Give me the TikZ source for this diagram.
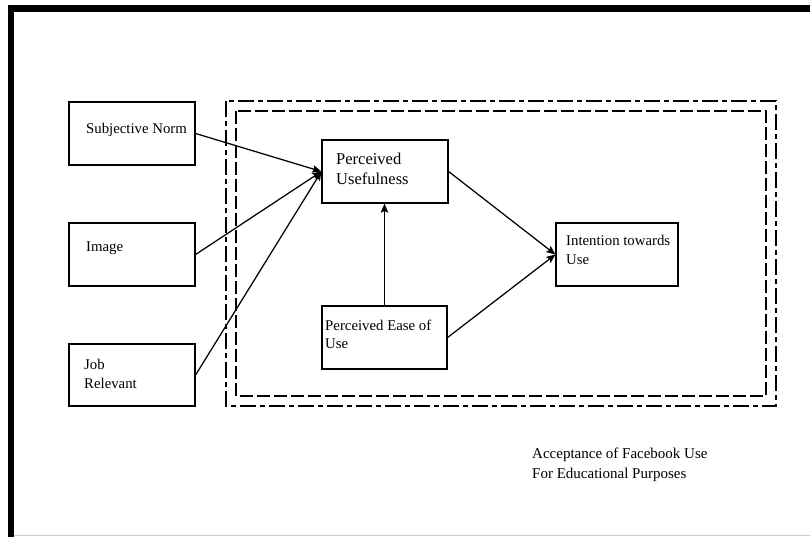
\documentclass[tikz,border=0pt]{standalone}
\usepackage{fontspec}
\setmainfont{Liberation Serif}
\usetikzlibrary{arrows.meta}

\tikzset{
  boxnode/.style={draw=black, line width=1.2pt, rectangle, inner sep=0pt},
  txt/.style={anchor=west, align=left, inner sep=0pt, font=\fontsize{14.8}{18.5}\selectfont},
  bigtxt/.style={anchor=west, align=left, inner sep=0pt, font=\fontsize{16.5}{20}\selectfont},
  link/.style={line width=1.25pt, -{Stealth[length=9pt,width=7.5pt,inset=1.5pt]}},
  outerdash/.style={line width=1.4pt, dash pattern=on 16pt off 4pt on 5pt off 4pt},
  innerdash/.style={line width=1.4pt, dash pattern=on 13pt off 4pt},
}

\begin{document}
\begin{tikzpicture}[x=1pt, y=-1pt]
  \useasboundingbox (0,0) rectangle (810,537);
  \fill[white] (0,0) rectangle (810,537);

  % page frame
  \draw[line width=1pt, color=black!20] (14,535) -- (810,535);
  \fill[black] (8,5) rectangle (810,12);
  \fill[black] (8,5) rectangle (14,537);

  % model boundary
  \draw[outerdash] (226,101) rectangle (776,406);
  \draw[innerdash] (236,111) rectangle (766,396);

  % boxes
  \node[boxnode, minimum width=126pt, minimum height=63pt] (sn)   at (132,133.5) {};
  \node[boxnode, minimum width=126pt, minimum height=63pt] (img)  at (132,254.5) {};
  \node[boxnode, minimum width=126pt, minimum height=62pt] (job)  at (132,375) {};
  \node[boxnode, minimum width=126pt, minimum height=63pt] (pu)   at (385,171.5) {};
  \node[boxnode, minimum width=125pt, minimum height=63pt] (peou) at (384.5,337.5) {};
  \node[boxnode, minimum width=122pt, minimum height=63pt] (iu)   at (617,254.5) {};

  % labels
  \node[txt] (tsn) at (86,130) {Subjective Norm};
  \node[txt] (timg) at (86,248) {Image};
  \node[txt] (tjob) at (84,374) {Job\\Relevant};
  \node[bigtxt] (tpu) at (336,169) {Perceived\\Usefulness};
  \node[txt] (tpeou) at (325,334.5) {Perceived Ease of\\Use};
  \node[txt] (tiu) at (566,250) {Intention towards\\Use};
  \node[txt, font=\fontsize{15}{19.5}\selectfont] (tcap) at (532,465) {Acceptance of Facebook Use\\For Educational Purposes};

  % connectors
  \draw[link] (sn.east) -- (pu.west);
  \draw[link] (img.east) -- (pu.west);
  \draw[link] (job.east) -- (pu.west);
  \draw[link] (peou.north) -- (peou.north |- pu.south);
  \draw[link] (pu.east) -- (iu.west);
  \draw[link] (peou.east) -- (iu.west);
\end{tikzpicture}
\end{document}
